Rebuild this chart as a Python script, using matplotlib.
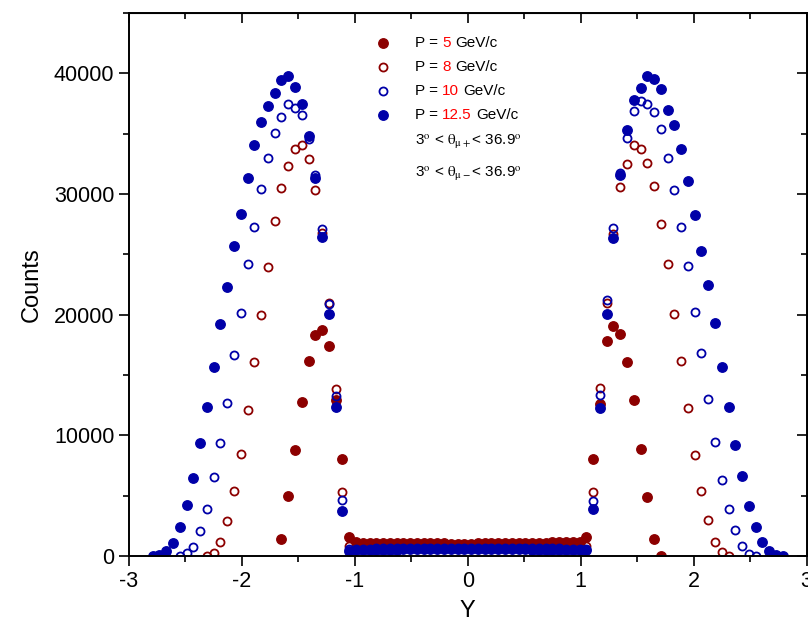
import numpy as np
import matplotlib
matplotlib.use("Agg")
import matplotlib.pyplot as plt
from matplotlib.ticker import MultipleLocator

plt.rcParams['font.family'] = ['Liberation Sans', 'DejaVu Sans']
plt.rcParams['mathtext.fontset'] = 'stix'
plt.rcParams['axes.unicode_minus'] = False

nan = np.nan

# bin centres of the rapidity histogram
y_bins = [-2.79, -2.73, -2.67, -2.61, -2.55, -2.49, -2.43, -2.37, -2.31, -2.25,
          -2.19, -2.13, -2.07, -2.01, -1.95, -1.89, -1.83, -1.77, -1.71, -1.65,
          -1.59, -1.53, -1.47, -1.41, -1.35, -1.29, -1.23, -1.17, -1.11, -1.05,
          -0.99, -0.93, -0.87, -0.81, -0.75, -0.69, -0.63, -0.57, -0.51, -0.45,
          -0.39, -0.33, -0.27, -0.21, -0.15, -0.09, -0.03, 0.03, 0.09, 0.15,
          0.21, 0.27, 0.33, 0.39, 0.45, 0.51, 0.57, 0.63, 0.69, 0.75,
          0.81, 0.87, 0.93, 0.99,
          1.05, 1.11, 1.17, 1.23, 1.29, 1.35, 1.41, 1.47, 1.53, 1.59,
          1.65, 1.71, 1.77, 1.83, 1.89, 1.95, 2.01, 2.07, 2.13, 2.19,
          2.25, 2.31, 2.37, 2.43, 2.49, 2.55, 2.61, 2.67, 2.73, 2.79]

# P = 5 GeV/c
counts_5 = ([nan] * 19 +
            [1380, 4970, 8780, 12790, 16160, 18310, 18720, 17420, 12900, 8010, 1550] +
            [1120, 1110, 1100, 1100, 1090, 1080, 1080, 1070, 1060, 1060, 1050, 1050,
             1040, 1040, 1030, 1030, 1030, 1030, 1040, 1040, 1050, 1050, 1060, 1070,
             1080, 1090, 1100, 1100, 1110, 1120, 1130, 1130, 1120, 1120] +
            [1550, 8010, 12600, 17840, 19060, 18420, 16070, 12920, 8860, 4910, 1380, 0] +
            [nan] * 18)

# P = 8 GeV/c
counts_8 = ([nan] * 8 +
            [0, 270, 1180, 2900, 5390, 8450, 12100, 16100, 20000, 23920, 27750,
             30510, 32360, 33700, 34050, 32920, 30300, 26740, 21000, 13810, 5330, 800] +
            [780, 790, 800, 800, 810, 810, 820, 820, 820, 830, 830, 830,
             840, 840, 840, 840, 840, 840, 840, 840, 840, 830, 830, 830,
             820, 820, 820, 810, 810, 800, 800, 790, 790, 780] +
            [800, 5280, 13920, 20940, 26680, 30550, 32480, 34100, 33770, 32540, 30630,
             27530, 24190, 20050, 16160, 12290, 8340, 5390, 2960, 1160, 330, 0] +
            [nan] * 8)

# P = 10 GeV/c
counts_10 = ([nan] * 4 +
             [0, 220, 770, 2070, 3870, 6520, 9390, 12700, 16650, 20160, 24220, 27280,
              30430, 32970, 35070, 36370, 37420, 37140, 36540, 34520, 31600, 27140,
              20880, 13260, 4640, 600] +
             [600, 610, 620, 630, 640, 650, 660, 670, 670, 680, 680, 690,
              690, 700, 700, 700, 700, 700, 700, 700, 700, 690, 690, 680,
              680, 670, 670, 660, 650, 640, 630, 620, 610, 600] +
             [600, 4560, 13340, 21210, 27150, 31760, 34660, 36870, 37670, 37420, 36810,
              35410, 32970, 30300, 27260, 24000, 20220, 16820, 12980, 9420, 6300, 3890,
              2150, 830, 170, 0] +
             [nan] * 4)

# P = 12.5 GeV/c
counts_125 = ([0, 100, 440, 1100, 2380, 4250, 6490, 9340, 12340, 15660, 19200, 22290,
               25680, 28330, 31340, 34030, 35980, 37260, 38360, 39410, 39770, 38830,
               37420, 34800, 31340, 26450, 20050, 12370, 3750, 440] +
              [480, 490, 500, 500, 510, 520, 530, 540, 550, 560, 570, 580,
               590, 600, 610, 620, 620, 620, 610, 600, 590, 580, 570, 560,
               550, 540, 530, 520, 510, 500, 500, 490, 480, 470] +
              [460, 3890, 12260, 20050, 26360, 31570, 35290, 37750, 38800, 39770, 39520,
               38730, 36980, 35680, 33700, 31090, 28250, 25290, 22450, 19280, 15680,
               12340, 9220, 6630, 4140, 2400, 1130, 440, 110, 0])

momenta = ['5', '8', '10', '12.5']

dark_red = '#8c0000'
blue = '#0000a8'

fig = plt.figure(figsize=(8.08, 6.39), dpi=100)
ax = fig.add_axes([129 / 808, 83 / 639, 677.5 / 808, 543 / 639])

styles = [
    dict(color=dark_red, marker='o', ls='none', ms=6.8, mec=dark_red),
    dict(color=dark_red, marker='o', ls='none', ms=5.8, mfc='none', mec=dark_red, mew=1.3),
    dict(color=blue, marker='o', ls='none', ms=5.8, mfc='none', mec=blue, mew=1.3),
    dict(color=blue, marker='o', ls='none', ms=6.8, mec=blue),
]
for vals, st in zip([counts_5, counts_8, counts_10, counts_125], styles):
    ax.plot(y_bins, vals, **st)

ax.set_xlim(-3, 3)
ax.set_ylim(0, 45000)
ax.xaxis.set_major_locator(MultipleLocator(1))
ax.xaxis.set_minor_locator(MultipleLocator(0.5))
ax.yaxis.set_major_locator(MultipleLocator(10000))
ax.yaxis.set_minor_locator(MultipleLocator(5000))
ax.tick_params(which='both', direction='out', labelsize=15.5, width=1.2)
ax.tick_params(which='major', length=7)
ax.tick_params(which='minor', length=4)
for sp in ax.spines.values():
    sp.set_linewidth(1.4)

# mirrored ticks pointing inwards on the top and right
top = ax.secondary_xaxis('top')
top.xaxis.set_major_locator(MultipleLocator(1))
top.xaxis.set_minor_locator(MultipleLocator(0.5))
top.tick_params(which='both', direction='in', labeltop=False, width=1.2)
top.tick_params(which='major', length=7)
top.tick_params(which='minor', length=4)
right = ax.secondary_yaxis('right')
right.yaxis.set_major_locator(MultipleLocator(10000))
right.yaxis.set_minor_locator(MultipleLocator(5000))
right.tick_params(which='both', direction='in', labelright=False, width=1.2)
right.tick_params(which='major', length=7)
right.tick_params(which='minor', length=4)

ax.set_xlabel('Y', fontsize=17, labelpad=6)
ax.set_ylabel('Counts', fontsize=17, labelpad=8)

# hand-made legend
renderer = fig.canvas.get_renderer()
fs = 11


def px(x, y):
    return x / 808, 1 - y / 639


def text_width(s):
    t = fig.text(0, 0, s, fontsize=fs)
    w = t.get_window_extent(renderer).width
    t.remove()
    return w


row_y = [43, 67, 91, 115]
x_mark, x_text = 383, 415
for p, st, yy in zip(momenta, styles, row_y):
    mk = {k: v for k, v in st.items() if k != 'ls'}
    fig.add_artist(plt.Line2D([x_mark / 808], [1 - yy / 639], transform=fig.transFigure, **mk))
    head = 'P = '
    fig.text(*px(x_text, yy), 'P =', fontsize=fs, va='center', ha='left')
    x_num = x_text + text_width(head + p) - text_width(p)
    fig.text(*px(x_num, yy), p, fontsize=fs, va='center', ha='left', color='#ff0000')
    x_tail = x_text + text_width(head + p + ' G') - text_width('G')
    fig.text(*px(x_tail, yy), 'GeV/c', fontsize=fs, va='center', ha='left')

fig.text(*px(x_text, 142), r'3$^{\rm o}$ < $\mathrm{\theta}_{\mathrm{\mu+}}$< 36.9$^{\rm o}$',
         fontsize=fs, va='center', ha='left')
fig.text(*px(x_text, 174), r'3$^{\rm o}$ < $\mathrm{\theta}_{\mathrm{\mu-}}$< 36.9$^{\rm o}$',
         fontsize=fs, va='center', ha='left')

fig.savefig('out.png', dpi=100)
plt.close(fig)
